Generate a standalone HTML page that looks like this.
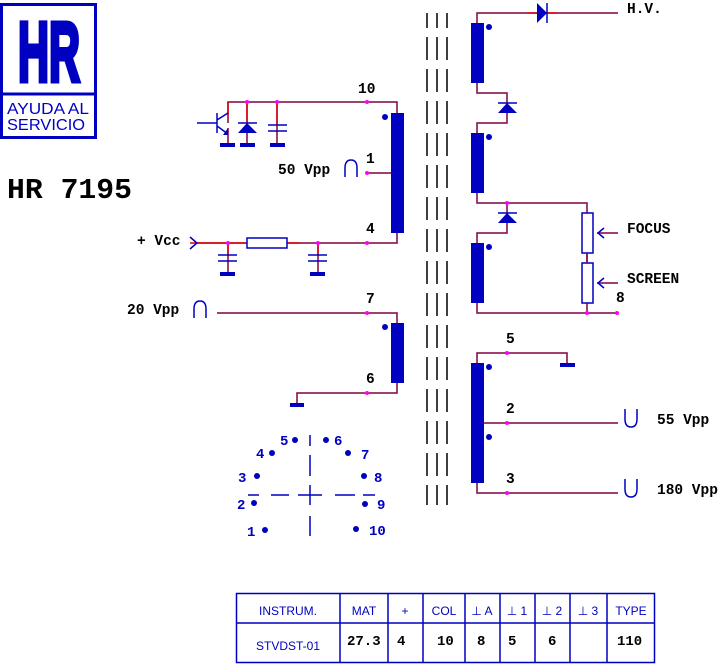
<!DOCTYPE html>
<html><head><style>body{margin:0;background:#fff}svg{display:block}</style></head><body>
<svg width="722" height="664" viewBox="0 0 722 664" xmlns="http://www.w3.org/2000/svg">
<rect x="0" y="0" width="722" height="664" fill="#fff"/>
<rect x="1.5" y="4.5" width="94" height="133" fill="none" stroke="#0000c0" stroke-width="3"/>
<line x1="1" y1="94" x2="96" y2="94" stroke="#0000c0" stroke-width="3"/>
<text x="49" y="81" font-family="Liberation Sans, sans-serif" font-weight="bold" font-size="84" fill="#0000c0" stroke="#0000c0" stroke-width="5" text-anchor="middle" textLength="62" lengthAdjust="spacingAndGlyphs">HR</text>
<text x="7" y="114" font-family="Liberation Sans, sans-serif" font-size="16" fill="#0000c0" textLength="82" lengthAdjust="spacingAndGlyphs">AYUDA AL</text>
<text x="7" y="130" font-family="Liberation Sans, sans-serif" font-size="16" fill="#0000c0" textLength="78" lengthAdjust="spacingAndGlyphs">SERVICIO</text>
<text x="7" y="198" font-family="Liberation Mono, monospace" font-weight="bold" font-size="29" fill="#000" textLength="125" lengthAdjust="spacingAndGlyphs">HR 7195</text>

<g font-family="Liberation Mono, monospace" font-weight="bold" font-size="14.5" fill="#000">
<text x="358" y="93">10</text><text x="366" y="163">1</text><text x="366" y="233">4</text>
<text x="366" y="303">7</text><text x="366" y="383">6</text>
<text x="278" y="174">50 Vpp</text><text x="137" y="245">+ Vcc</text><text x="127" y="314">20 Vpp</text>
<text x="627" y="13">H.V.</text><text x="627" y="233">FOCUS</text><text x="627" y="283">SCREEN</text>
<text x="616" y="302">8</text><text x="506" y="343">5</text><text x="506" y="413">2</text><text x="506" y="483">3</text>
<text x="657" y="424">55 Vpp</text><text x="657" y="494">180 Vpp</text>
</g>

<g stroke="#800040" stroke-width="1.5" fill="none">
<polyline points="228,123 228,102 397,102 397,113"/>
<line x1="247" y1="102" x2="247" y2="145"/><line x1="277" y1="102" x2="277" y2="145"/>
<line x1="228" y1="128" x2="228" y2="145"/>
<line x1="367" y1="173" x2="397" y2="173"/>
<polyline points="197,243 397,243 397,233"/>
<line x1="228" y1="243" x2="228" y2="273"/><line x1="318" y1="243" x2="318" y2="273"/>
<polyline points="217,313 397,313 397,323"/>
<polyline points="297,403 297,393 397,393 397,383"/>
<polyline points="477,23 477,13 618,13"/>
<polyline points="477,83 477,93 507,93 507,123 477,123 477,133"/>
<polyline points="477,193 477,203 587,203 587,313"/>
<polyline points="507,203 507,233 477,233 477,243"/>
<polyline points="477,303 477,313 617,313"/>
<polyline points="477,363 477,353 567,353 567,363"/>
<line x1="477" y1="423" x2="618" y2="423"/>
<polyline points="477,483 477,493 618,493"/>
<line x1="597" y1="233" x2="618" y2="233"/><line x1="597" y1="283" x2="618" y2="283"/>
</g>
<g stroke="#e00000" stroke-width="1.5">
<line x1="228" y1="102" x2="228" y2="115"/><line x1="247" y1="102" x2="247" y2="123"/><line x1="277" y1="102" x2="277" y2="125"/>
<line x1="190" y1="243" x2="247" y2="243"/><line x1="287" y1="243" x2="300" y2="243"/>
<line x1="228" y1="243" x2="228" y2="255"/><line x1="318" y1="243" x2="318" y2="255"/>
<line x1="527" y1="13" x2="557" y2="13"/>
</g>

<g fill="#0000c0" stroke="none">
<rect x="391" y="113" width="13" height="120"/><rect x="391" y="323" width="13" height="60"/>
<rect x="471" y="23" width="13" height="60"/><rect x="471" y="133" width="13" height="60"/>
<rect x="471" y="243" width="13" height="60"/><rect x="471" y="363" width="13" height="120"/>
<circle cx="385" cy="117" r="3"/><circle cx="385" cy="327" r="3"/>
<circle cx="489" cy="27" r="3"/><circle cx="489" cy="137" r="3"/><circle cx="489" cy="247" r="3"/>
<circle cx="489" cy="367" r="3"/><circle cx="489" cy="437" r="3"/>
<rect x="220" y="143" width="15" height="4"/><rect x="240" y="143" width="15" height="4"/><rect x="270" y="143" width="15" height="4"/>
<rect x="220" y="272" width="15" height="4"/><rect x="310" y="272" width="15" height="4"/>
<rect x="290" y="403" width="14" height="4"/><rect x="560" y="363" width="15" height="4"/>
<polygon points="238,133 257,133 247,123"/><polygon points="498,113 517,113 507,103"/><polygon points="498,223 517,223 507,213"/>
<polygon points="537,3 537,23 547,13"/>
<polygon points="223,135 228,135 228,128"/>
</g>
<g stroke="#0000c0" stroke-width="1.5" fill="none">
<line x1="238" y1="123" x2="257" y2="123"/><line x1="498" y1="103" x2="517" y2="103"/><line x1="498" y1="213" x2="517" y2="213"/>
<line x1="547" y1="3" x2="547" y2="23"/>
<line x1="268" y1="125" x2="287" y2="125"/><line x1="268" y1="131" x2="287" y2="131"/>
<line x1="218" y1="255" x2="237" y2="255"/><line x1="218" y1="261" x2="237" y2="261"/>
<line x1="308" y1="255" x2="327" y2="255"/><line x1="308" y1="261" x2="327" y2="261"/>
<line x1="197" y1="123" x2="217" y2="123"/><line x1="217" y1="113" x2="217" y2="133"/>
<line x1="217" y1="120" x2="228" y2="113"/><line x1="217" y1="126" x2="228" y2="134"/>
<rect x="247" y="238" width="40" height="10" fill="#fff"/>
<rect x="582" y="213" width="11" height="40" fill="#fff"/><rect x="582" y="263" width="11" height="40" fill="#fff"/>
<polyline points="604,228 598,233 604,238"/><polyline points="604,278 598,283 604,288"/>
<polyline points="190,237 197,243 190,249"/>
<path d="M345,177 V168 Q345,160 351,160 Q357,160 357,168 V177"/>
<path d="M194,318 V309 Q194,301 200,301 Q206,301 206,309 V318"/>
<path d="M625,409 V419 Q625,427 631,427 Q637,427 637,419 V409"/>
<path d="M625,479 V489 Q625,497 631,497 Q637,497 637,489 V479"/>
</g>
<g stroke="#800040" stroke-width="1.5"><line x1="587" y1="253" x2="587" y2="263"/></g>
<g fill="#ff00ff">
<circle cx="247" cy="102" r="2"/><circle cx="277" cy="102" r="2"/><circle cx="367" cy="102" r="2"/>
<circle cx="367" cy="173" r="2"/><circle cx="228" cy="243" r="2"/><circle cx="318" cy="243" r="2"/><circle cx="367" cy="243" r="2"/>
<circle cx="367" cy="313" r="2"/><circle cx="367" cy="393" r="2"/>
<circle cx="507" cy="203" r="2"/><circle cx="587" cy="313" r="2"/><circle cx="617" cy="313" r="2"/>
<circle cx="507" cy="353" r="2"/><circle cx="507" cy="423" r="2"/><circle cx="507" cy="493" r="2"/>
</g>
<g stroke="#000" stroke-width="1.5" stroke-dasharray="23,9" stroke-dashoffset="8">
<line x1="427" y1="13" x2="427" y2="505"/><line x1="437" y1="13" x2="437" y2="505"/><line x1="447" y1="13" x2="447" y2="505"/>
</g>
<g fill="#0000c0">
<circle cx="295" cy="440" r="3"/><circle cx="326" cy="440" r="3"/><circle cx="272" cy="453" r="3"/><circle cx="348" cy="453" r="3"/>
<circle cx="257" cy="476" r="3"/><circle cx="364" cy="476" r="3"/><circle cx="254" cy="503" r="3"/><circle cx="365" cy="504" r="3"/>
<circle cx="265" cy="530" r="3"/><circle cx="356" cy="529" r="3"/>
</g>
<g font-family="Liberation Mono, monospace" font-weight="bold" font-size="14" fill="#0000c0">
<text x="280" y="445">5</text><text x="334" y="445">6</text><text x="256" y="458">4</text><text x="361" y="459">7</text>
<text x="238" y="482">3</text><text x="374" y="482">8</text><text x="237" y="509">2</text><text x="377" y="509">9</text>
<text x="247" y="536">1</text><text x="369" y="535">10</text>
</g>
<g stroke="#0000c0" stroke-width="1.5">
<line x1="310" y1="435" x2="310" y2="446"/><line x1="310" y1="455" x2="310" y2="476"/><line x1="310" y1="485" x2="310" y2="505"/><line x1="310" y1="516" x2="310" y2="536"/>
<line x1="248" y1="495" x2="259" y2="495"/><line x1="271" y1="495" x2="289" y2="495"/><line x1="298" y1="495" x2="322" y2="495"/><line x1="335" y1="495" x2="355" y2="495"/><line x1="363" y1="495" x2="375" y2="495"/>
</g>
<g stroke="#0000c0" stroke-width="1.5" fill="none">
<rect x="236.5" y="593.5" width="418" height="69"/>
<line x1="236" y1="623" x2="655" y2="623"/>
<line x1="340" y1="593" x2="340" y2="663"/><line x1="388" y1="593" x2="388" y2="663"/><line x1="423" y1="593" x2="423" y2="663"/>
<line x1="465" y1="593" x2="465" y2="663"/><line x1="500" y1="593" x2="500" y2="663"/><line x1="535" y1="593" x2="535" y2="663"/>
<line x1="570" y1="593" x2="570" y2="663"/><line x1="607" y1="593" x2="607" y2="663"/>
</g>
<g font-family="Liberation Sans, sans-serif" font-size="12" fill="#0000c0" text-anchor="middle">
<text x="288" y="615">INSTRUM.</text><text x="364" y="615">MAT</text><text x="405" y="615">+</text><text x="444" y="615">COL</text>
<text x="482" y="615">⊥ A</text><text x="517" y="615">⊥ 1</text><text x="552" y="615">⊥ 2</text><text x="588" y="615">⊥ 3</text><text x="631" y="615">TYPE</text>
<text x="288" y="650">STVDST-01</text>
</g>
<g font-family="Liberation Mono, monospace" font-weight="bold" font-size="14" fill="#000">
<text x="347" y="645">27.3</text><text x="397" y="645">4</text><text x="437" y="645">10</text><text x="477" y="645">8</text>
<text x="508" y="645">5</text><text x="548" y="645">6</text><text x="617" y="645">110</text>
</g>
</svg>
</body></html>
